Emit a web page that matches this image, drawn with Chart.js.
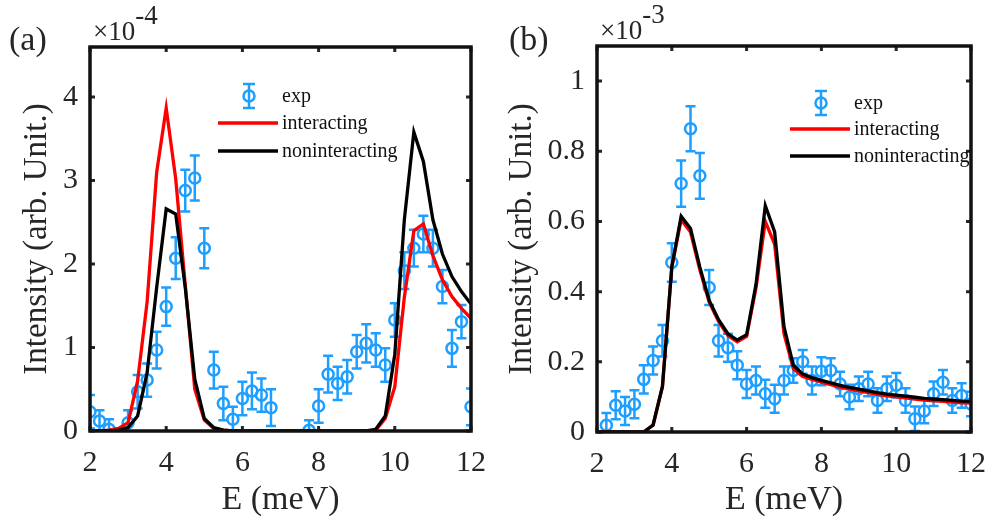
<!DOCTYPE html>
<html>
<head>
<meta charset="utf-8">
<script src="https://cdn.jsdelivr.net/npm/chart.js@4.4.0/dist/chart.umd.min.js"></script>
<style>
  html, body { margin: 0; padding: 0; background: #fff; }
  #wrap { position: relative; width: 1000px; height: 525px; overflow: hidden; }
  .panel { position: absolute; top: 0; width: 500px; height: 525px; }
  .panel canvas { position: absolute; left: 0; top: 0; }
  .tag { position: absolute; font-family: 'Liberation Serif', 'Times New Roman', serif; color: #262626; white-space: nowrap; line-height: 1; }
  .tag.big { font-size: 34px; }
  .tag.mult { font-size: 27px; }
  .tag.mult span { position: relative; top: -16px; }
</style>
</head>
<body>
<div id="wrap">
  <div class="panel" style="left:0">
    <canvas id="chartA" width="500" height="525"></canvas>
    <div class="tag big" style="left:9px; top:22px">(a)</div>
    <div class="tag mult" style="left:93px; top:18px">×10<span>-4</span></div>
  </div>
  <div class="panel" style="left:500px">
    <canvas id="chartB" width="500" height="525"></canvas>
    <div class="tag big" style="left:9px; top:22px">(b)</div>
    <div class="tag mult" style="left:100px; top:17px">×10<span>-3</span></div>
  </div>
</div>
<script>
// axis ticks
var xTicks = [2, 4, 6, 8, 10, 12];
var yTicksA = [0, 1, 2, 3, 4];
var yTicksB = [0, 0.2, 0.4, 0.6, 0.8, 1];

// energy grid of the model curves (meV)
var modelE = [2, 2.25, 2.5, 2.75, 3, 3.25, 3.5, 3.75, 4, 4.25, 4.5, 4.75, 5, 5.25, 5.5, 5.75,
  6, 6.25, 6.5, 6.75, 7, 7.25, 7.5, 7.75, 8, 8.25, 8.5, 8.75, 9, 9.25, 9.5, 9.75,
  10, 10.25, 10.5, 10.75, 11, 11.25, 11.5, 11.75, 12];

// panel (a), intensity in units of 1e-4
var expEA = [2, 2.25, 2.5, 3, 3.25, 3.5, 3.75, 4, 4.25, 4.5, 4.75, 5, 5.25, 5.5, 5.75, 6, 6.25, 6.5, 6.75,
  7.75, 8, 8.25, 8.5, 8.75, 9, 9.25, 9.5, 9.75, 10, 10.25, 10.5, 10.75, 11, 11.25, 11.5, 11.75, 12];
var expIA = [0.23, 0.12, 0.02, 0.1, 0.47, 0.61, 0.97, 1.49, 2.07, 2.88, 3.03, 2.19, 0.73, 0.33, 0.14, 0.39, 0.48, 0.43, 0.28,
  0.01, 0.3, 0.68, 0.57, 0.65, 0.95, 1.05, 0.97, 0.79, 1.33, 1.92, 2.19, 2.36, 2.19, 1.73, 0.99, 1.31, 0.29];
var expErrA = [0.2, 0.13, 0.12, 0.15, 0.2, 0.2, 0.22, 0.23, 0.25, 0.25, 0.27, 0.24, 0.22, 0.2, 0.15, 0.2, 0.22, 0.2, 0.22,
  0.12, 0.2, 0.22, 0.2, 0.2, 0.2, 0.23, 0.2, 0.2, 0.2, 0.22, 0.22, 0.22, 0.22, 0.2, 0.22, 0.2, 0.22];
var interA = [0, 0, 0.01, 0.03, 0.1, 0.6, 1.55, 3.1, 3.87, 3.02, 1.75, 0.5, 0.13, 0.03, 0.01, 0,
  0, 0, 0, 0, 0, 0, 0, 0, 0, 0, 0, 0, 0, 0, 0.01, 0.15,
  0.53, 1.6, 2.4, 2.48, 2.1, 1.81, 1.61, 1.47, 1.35];
var nonA = [0, 0, 0, 0.01, 0.04, 0.18, 0.7, 1.72, 2.66, 2.6, 1.72, 0.62, 0.15, 0.04, 0.01, 0,
  0, 0, 0, 0, 0, 0, 0, 0, 0, 0, 0, 0, 0, 0, 0.02, 0.18,
  0.92, 2.53, 3.58, 3.23, 2.53, 2.12, 1.85, 1.67, 1.52];

// panel (b), intensity in units of 1e-3
var expEB = [2.25, 2.5, 2.75, 3, 3.25, 3.5, 3.75, 4, 4.25, 4.5, 4.75, 5, 5.25, 5.5, 5.75, 6, 6.25, 6.5, 6.75, 7,
  7.25, 7.5, 7.75, 8, 8.25, 8.5, 8.75, 9, 9.25, 9.5, 9.75, 10, 10.25, 10.5, 10.75, 11, 11.25, 11.5, 11.75, 12];
var expIB = [0.019, 0.076, 0.06, 0.079, 0.15, 0.204, 0.26, 0.483, 0.708, 0.864, 0.73, 0.412, 0.26, 0.24, 0.19, 0.137, 0.147, 0.109, 0.095, 0.147,
  0.175, 0.2, 0.147, 0.173, 0.175, 0.137, 0.1, 0.123, 0.137, 0.09, 0.123, 0.133, 0.09, 0.038, 0.06, 0.109, 0.142, 0.09, 0.104, 0.08];
var expErrB = [0.035, 0.04, 0.04, 0.04, 0.04, 0.04, 0.045, 0.055, 0.066, 0.064, 0.065, 0.05, 0.045, 0.04, 0.04, 0.04, 0.04, 0.04, 0.04, 0.04,
  0.035, 0.034, 0.04, 0.04, 0.035, 0.035, 0.035, 0.035, 0.035, 0.035, 0.035, 0.035, 0.035, 0.035, 0.035, 0.035, 0.035, 0.035, 0.035, 0.035];
var interB = [0, 0, 0, 0, 0, 0, 0.02, 0.13, 0.47, 0.605, 0.57, 0.462, 0.37, 0.315, 0.275, 0.257,
  0.272, 0.41, 0.6, 0.535, 0.28, 0.18, 0.158, 0.15, 0.142, 0.135, 0.128, 0.122, 0.117, 0.112, 0.107, 0.103,
  0.1, 0.097, 0.094, 0.091, 0.089, 0.087, 0.085, 0.083, 0.082];
var nonB = [0, 0, 0, 0, 0, 0, 0.02, 0.13, 0.47, 0.615, 0.58, 0.47, 0.375, 0.32, 0.28, 0.262,
  0.277, 0.42, 0.645, 0.57, 0.3, 0.19, 0.165, 0.155, 0.147, 0.14, 0.133, 0.127, 0.122, 0.117, 0.112, 0.108,
  0.105, 0.102, 0.099, 0.096, 0.094, 0.092, 0.09, 0.088, 0.087];

var BLUE = '#1e9fff';
var RED = '#ff0000';
var BLACK = '#000000';
var TEXT = '#262626';
var SERIF = "'Liberation Serif', 'Times New Roman', serif";

Chart.defaults.font.family = SERIF;
Chart.defaults.color = TEXT;

function pts(xs, ys) {
  var out = [];
  for (var i = 0; i < xs.length; i++) out.push({ x: xs[i], y: ys[i] });
  return out;
}

function drawErrorBar(ctx, px, yTop, yBot, cap) {
  ctx.moveTo(px, yTop); ctx.lineTo(px, yBot);
  ctx.moveTo(px - cap, yTop); ctx.lineTo(px + cap, yTop);
  ctx.moveTo(px - cap, yBot); ctx.lineTo(px + cap, yBot);
}

var errorBarPlugin = {
  id: 'errorBars',
  afterDatasetDraw: function (chart, args) {
    var ds = chart.data.datasets[args.index];
    if (!ds.errors) return;
    var ctx = chart.ctx, a = chart.chartArea;
    var xs = chart.scales.x, ys = chart.scales.y;
    ctx.save();
    ctx.beginPath();
    ctx.rect(a.left, a.top, a.right - a.left, a.bottom - a.top);
    ctx.clip();
    ctx.beginPath();
    for (var i = 0; i < ds.data.length; i++) {
      var p = ds.data[i];
      drawErrorBar(ctx, xs.getPixelForValue(p.x),
        ys.getPixelForValue(p.y + ds.errors[i]),
        ys.getPixelForValue(p.y - ds.errors[i]), 5);
    }
    ctx.strokeStyle = ds.borderColor;
    ctx.lineWidth = 2.5;
    ctx.stroke();
    ctx.restore();
  }
};

// MATLAB style box with inward ticks
var framePlugin = {
  id: 'frame',
  afterDraw: function (chart) {
    var ctx = chart.ctx, a = chart.chartArea;
    var xs = chart.scales.x, ys = chart.scales.y;
    var len = 5;
    ctx.save();
    ctx.strokeStyle = TEXT;
    ctx.lineWidth = 3;
    ctx.beginPath();
    xs.ticks.forEach(function (t) {
      var px = xs.getPixelForValue(t.value);
      ctx.moveTo(px, a.bottom); ctx.lineTo(px, a.bottom - len);
      ctx.moveTo(px, a.top); ctx.lineTo(px, a.top + len);
    });
    ys.ticks.forEach(function (t) {
      var py = ys.getPixelForValue(t.value);
      ctx.moveTo(a.left, py); ctx.lineTo(a.left + len, py);
      ctx.moveTo(a.right, py); ctx.lineTo(a.right - len, py);
    });
    ctx.stroke();
    ctx.strokeStyle = '#111';
    ctx.lineWidth = 3.5;
    ctx.strokeRect(a.left, a.top, a.right - a.left, a.bottom - a.top);
    ctx.restore();
  }
};

var legendPlugin = {
  id: 'boxLegend',
  afterDraw: function (chart, args, opts) {
    var ctx = chart.ctx;
    var ds = chart.data.datasets;
    ctx.save();
    ctx.font = '20px ' + SERIF;
    ctx.textBaseline = 'middle';
    ctx.fillStyle = '#111';
    for (var i = 0; i < ds.length; i++) {
      var y = opts.rows[i];
      if (ds[i].errors) {
        var mx = (opts.lineFrom + opts.lineTo) / 2 + 1;
        ctx.beginPath();
        drawErrorBar(ctx, mx, y - 12, y + 12, 6);
        ctx.strokeStyle = ds[i].borderColor;
        ctx.lineWidth = 2.5;
        ctx.stroke();
        ctx.beginPath();
        ctx.arc(mx, y, 5.5, 0, Math.PI * 2);
        ctx.stroke();
      } else {
        ctx.beginPath();
        ctx.moveTo(opts.lineFrom, y); ctx.lineTo(opts.lineTo, y);
        ctx.strokeStyle = ds[i].borderColor;
        ctx.lineWidth = 3.5;
        ctx.stroke();
      }
      ctx.fillText(ds[i].label, opts.textX, y + 1);
    }
    ctx.restore();
  }
};

function tickList(values) {
  return function (scale) {
    scale.ticks = values.map(function (v) { return { value: v }; });
  };
}

function buildChart(canvas, cfg) {
  return new Chart(canvas, {
    type: 'scatter',
    data: {
      datasets: [
        {
          label: 'exp', data: pts(cfg.expE, cfg.expI), errors: cfg.expErr,
          showLine: false, pointRadius: 5.5, pointBorderWidth: 2.5,
          borderColor: BLUE, backgroundColor: 'rgba(0,0,0,0)', order: 3
        },
        {
          label: 'interacting', data: pts(modelE, cfg.inter), showLine: true,
          borderColor: RED, borderWidth: 3.3, pointRadius: 0, tension: 0, order: 2
        },
        {
          label: 'noninteracting', data: pts(modelE, cfg.non), showLine: true,
          borderColor: BLACK, borderWidth: 3.3, pointRadius: 0, tension: 0, order: 1
        }
      ]
    },
    options: {
      responsive: false,
      animation: false,
      events: [],
      layout: { padding: { left: 0, right: cfg.padRight, top: cfg.padTop, bottom: 0 } },
      plugins: {
        legend: { display: false },
        tooltip: { enabled: false },
        boxLegend: cfg.legend
      },
      scales: {
        x: {
          type: 'linear', min: 2, max: 12,
          afterBuildTicks: tickList(xTicks),
          afterFit: function (s) { s.height = cfg.xAxisHeight; },
          grid: { display: false, drawTicks: false },
          border: { display: false },
          ticks: { font: { family: SERIF, size: 30 }, color: TEXT, padding: 14, maxRotation: 0 },
          title: {
            display: true, text: 'E (meV)', color: TEXT,
            font: { family: SERIF, size: 34 }, padding: { bottom: 5, top: 0 }
          }
        },
        y: {
          type: 'linear', min: 0, max: cfg.yMax,
          afterBuildTicks: tickList(cfg.yTicks),
          afterFit: function (s) { s.width = cfg.yAxisWidth; },
          grid: { display: false, drawTicks: false },
          border: { display: false },
          ticks: {
            font: { family: SERIF, size: 30 }, color: TEXT, padding: 12,
            callback: function (v) { return String(+v.toFixed(1)); }
          },
          title: {
            display: true, text: 'Intensity (arb. Unit.)', color: TEXT,
            font: { family: SERIF, size: 33 }, padding: { top: cfg.yTitlePad, bottom: 0 }
          }
        }
      }
    },
    plugins: [errorBarPlugin, framePlugin, legendPlugin]
  });
}

function drawAll() {
  buildChart(document.getElementById('chartA'), {
    expE: expEA, expI: expIA, expErr: expErrA, inter: interA, non: nonA,
    yTicks: yTicksA, yMax: 4.6,
    padTop: 47, padRight: 24, xAxisHeight: 94, yAxisWidth: 90, yTitlePad: 18,
    legend: { rows: [96, 123, 151], lineFrom: 218, lineTo: 278, textX: 282 }
  });

  buildChart(document.getElementById('chartB'), {
    expE: expEB, expI: expIB, expErr: expErrB, inter: interB, non: nonB,
    yTicks: yTicksB, yMax: 1.1,
    padTop: 46, padRight: 16, xAxisHeight: 93, yAxisWidth: 97, yTitlePad: 3,
    legend: { rows: [103, 129, 156], lineFrom: 290, lineTo: 350, textX: 354 }
  });
}

if (document.fonts && document.fonts.load) {
  Promise.all([
    document.fonts.load('30px "Liberation Serif"'),
    document.fonts.load('20px "Liberation Serif"')
  ]).then(drawAll, drawAll);
} else {
  drawAll();
}
</script>
</body>
</html>
